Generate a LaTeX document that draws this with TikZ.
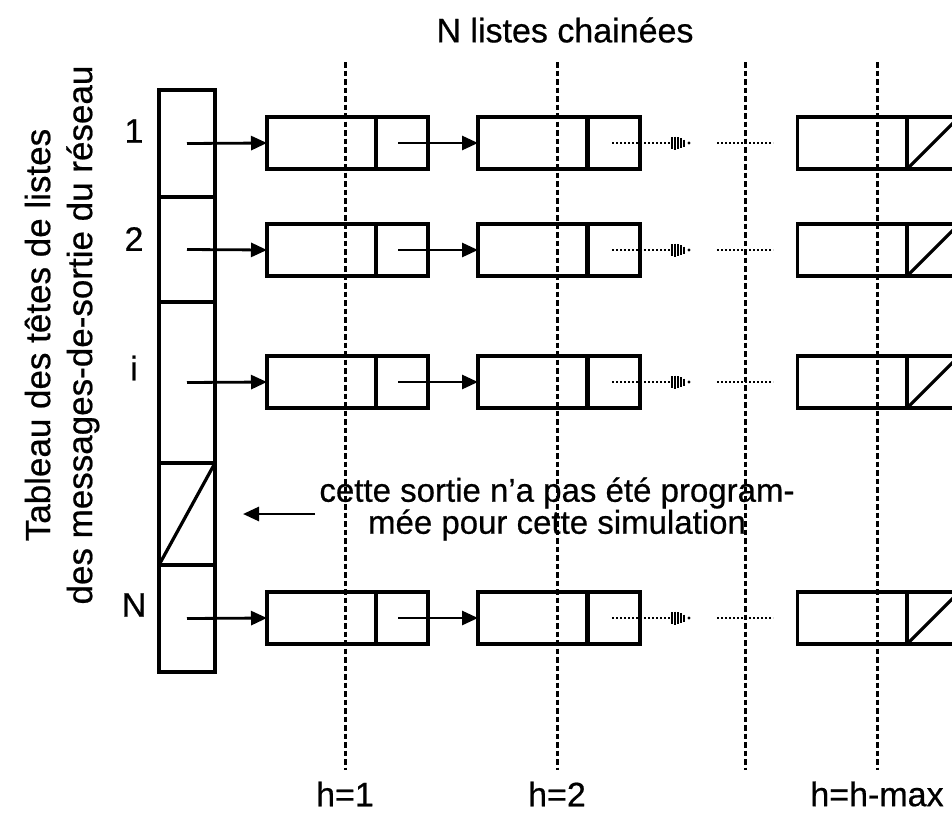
\documentclass[tikz,border=0pt]{standalone}
\usepackage{fontspec}
\setmainfont{Liberation Sans}[BoldFont={Liberation Sans},BoldFeatures={FakeBold=0.6}]
\usetikzlibrary{arrows.meta}
\begin{document}
\begin{tikzpicture}[x=1pt,y=-1pt,
  cellbox/.style={draw, line width=3.2pt, inner sep=0pt, outer sep=0pt, minimum height=52pt},
  dataA/.style={cellbox, minimum width=109pt},
  ptrB/.style={cellbox, minimum width=52pt},
  tcell/.style={draw, line width=3.2pt, inner sep=0pt, outer sep=0pt, minimum width=56pt},
  lnk/.style={line width=2.8pt, -{Triangle[length=16pt,width=14pt]}},
  dotln/.style={line width=2.4pt, dash pattern=on 1.8pt off 2.2pt},
  hline/.style={line width=3pt, dash pattern=on 5.5pt off 3pt},
  lab/.style={font=\fontsize{34}{34}\selectfont\bfseries, inner sep=0pt},
  stripehead/.pic={
    \foreach \dx/\h in {0/6,3/6.5,6/6,9/5,12/3.5}
      \draw[line width=1.8pt] (\dx,-\h) -- (\dx,\h);
    \fill (17,0) circle (1.6pt);
  }
]
\clip (0,0) rectangle (952,814);
\useasboundingbox (0,0) rectangle (952,814);

% table of list heads
\node[tcell, minimum height=107pt] (t1) at (187,143.5) {};
\node[tcell, minimum height=105pt] (t2) at (187,249.5) {};
\node[tcell, minimum height=161pt] (t3) at (187,382.5) {};
\node[tcell, minimum height=102pt] (t4) at (187,514) {};
\node[tcell, minimum height=107pt] (t5) at (187,618.5) {};
\draw[line width=3.2pt] (t4.south west) -- (t4.north east);

% row labels
\node[lab] (l1) at (134,131) {1};
\node[lab] (l2) at (134,239) {2};
\node[lab] (l3) at (134,368) {i};
\node[lab] (l4) at (134,605) {N};

% lists
\foreach \r/\y in {1/143,2/250,3/382,4/618}{
  \node[dataA] (a\r) at (321.5,\y) {};
  \node[ptrB]  (b\r) at (402,\y) {};
  \node[dataA] (c\r) at (532.5,\y) {};
  \node[ptrB]  (d\r) at (614,\y) {};
  \node[dataA] (e\r) at (852,\y) {};
  \node[ptrB]  (f\r) at (933,\y) {};
  \draw[line width=3.2pt] (f\r.south west) -- (f\r.north east);
  \draw[lnk] (398,\y) -- (c\r.west);
  \coordinate (g\r) at (672,\y);
  \draw[dotln] (612,\y) -- (g\r);
  \pic at (g\r) {stripehead};
  \coordinate (m\r) at (717,\y);
  \coordinate (n\r) at (773,\y);
  \draw[dotln] (m\r) -- (n\r);
}
\draw[lnk] (t1.center) -- (a1.west);
\draw[lnk] (t2.center) -- (a2.west);
\draw[lnk] (t3.center) -- (a3.west);
\draw[lnk] (t5.center) -- (a4.west);

% comment
\node[lab, align=center, font=\fontsize{33}{32}\selectfont\bfseries] (com) at (557,509)
  {cette sortie n'a pas été program-\\mée pour cette simulation};
\coordinate (ca) at (315,514);
\coordinate (cb) at (243,514);
\draw[lnk] (ca) -- (cb);

% title and side text
\node[lab] (title) at (565,30) {N listes chainées};
\node[lab, rotate=90, align=center, font=\fontsize{35}{42}\selectfont\bfseries] (side) at (62,335)
  {Tableau des têtes de listes\\des messages-de-sortie du réseau};

% vertical separators
\foreach \k/\x in {1/345,2/557,3/745,4/877}{
  \coordinate (vt\k) at (\x,62);
  \coordinate (vb\k) at (\x,770);
  \draw[hline] (vt\k) -- (vb\k);
}

% h labels
\node[lab] (h1) at (345,794) {h=1};
\node[lab] (h2) at (557,794) {h=2};
\node[lab] (h3) at (877,794) {h=h-max};
\end{tikzpicture}
\end{document}
